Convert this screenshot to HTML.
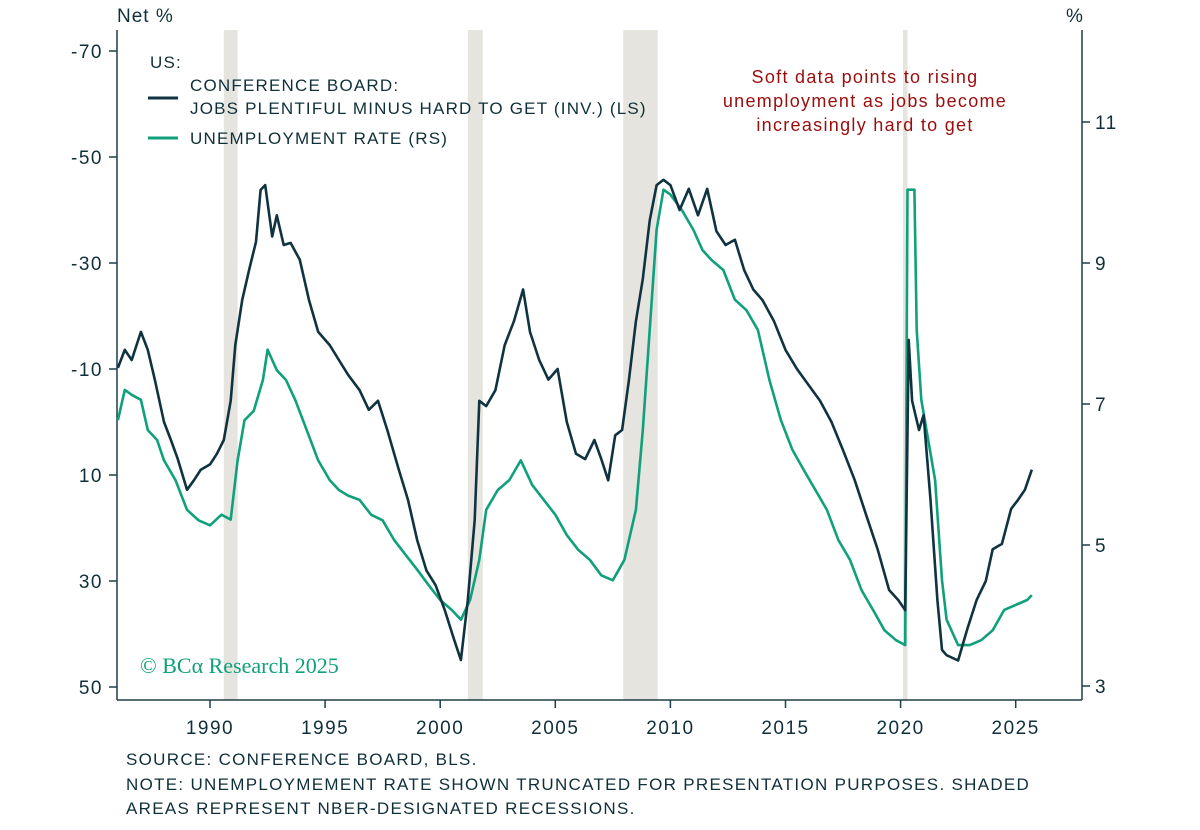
<!DOCTYPE html>
<html><head><meta charset="utf-8"><style>
html,body{margin:0;padding:0;background:#fff;}
svg{display:block;font-family:"Liberation Sans",sans-serif;}
</style></head><body>
<svg id="chart" width="1200" height="830" viewBox="0 0 1200 830">
<g id="rec"></g>
<g id="axes"></g>
<g id="lines"></g>
<text x="117" y="22" font-size="19" fill="#0f2f3a" letter-spacing="1">Net %</text>
<text x="1066" y="22" font-size="19" fill="#0f2f3a">%</text>
<g letter-spacing="1.2" font-size="17" fill="#0f2f3a">
<text x="150" y="68">US:</text>
<line x1="148" x2="178" y1="98" y2="98" stroke="#0f3340" stroke-width="3"/>
<text x="190" y="91">CONFERENCE BOARD:</text>
<text x="190" y="114">JOBS PLENTIFUL MINUS HARD TO GET (INV.) (LS)</text>
<line x1="148" x2="178" y1="138" y2="138" stroke="#10a07b" stroke-width="3"/>
<text x="190" y="144">UNEMPLOYMENT RATE (RS)</text>
</g>
<g font-size="18" fill="#9b0d0d" text-anchor="middle" letter-spacing="1.3">
<text x="865" y="83">Soft data points to rising</text>
<text x="865" y="107">unemployment as jobs become</text>
<text x="865" y="131">increasingly hard to get</text>
</g>
<text x="140" y="673" font-size="22" fill="#10a07b" font-family="Liberation Serif,serif">© BCα Research 2025</text>
<g font-size="17" fill="#0f2f3a" letter-spacing="1.3">
<text x="126" y="765">SOURCE: CONFERENCE BOARD, BLS.</text>
<text x="126" y="790">NOTE: UNEMPLOYMEMENT RATE SHOWN TRUNCATED FOR PRESENTATION PURPOSES. SHADED</text>
<text x="126" y="814">AREAS REPRESENT NBER-DESIGNATED RECESSIONS.</text>
</g>
</svg>
<script>
const recessions=[[1990.6,1991.2],[2001.2,2001.85],[2007.95,2009.45],[2020.1,2020.3]];
const xTicks=[1990,1995,2000,2005,2010,2015,2020,2025];
const leftTicks=[-70,-50,-30,-10,10,30,50];
const rightTicks=[11,9,7,5,3];
const jobsDates=[1986.0,1986.3,1986.6,1987.0,1987.3,1987.6,1988.0,1988.3,1988.6,1989.0,1989.3,1989.6,1990.0,1990.3,1990.6,1990.9,1991.1,1991.4,1991.7,1992.0,1992.2,1992.4,1992.7,1992.9,1993.2,1993.5,1993.9,1994.3,1994.7,1995.2,1995.6,1996.0,1996.5,1996.9,1997.3,1997.7,1998.2,1998.6,1999.0,1999.4,1999.8,2000.2,2000.6,2000.9,2001.2,2001.5,2001.7,2002.0,2002.4,2002.8,2003.2,2003.6,2003.9,2004.3,2004.7,2005.1,2005.5,2005.9,2006.3,2006.7,2007.0,2007.3,2007.6,2007.9,2008.2,2008.5,2008.8,2009.1,2009.4,2009.7,2010.0,2010.4,2010.8,2011.2,2011.6,2012.0,2012.4,2012.8,2013.2,2013.6,2014.0,2014.5,2015.0,2015.5,2016.0,2016.5,2017.0,2017.5,2018.0,2018.5,2019.0,2019.5,2019.9,2020.2,2020.35,2020.5,2020.8,2021.0,2021.3,2021.6,2021.8,2022.0,2022.5,2022.9,2023.3,2023.7,2024.0,2024.4,2024.8,2025.1,2025.4,2025.7];
const jobsValues=[-10.2,-13.6,-11.7,-17,-13.6,-8,0,3.4,7,12.8,11,9,8,6,3.4,-4,-14.5,-23,-28.7,-34,-43.8,-44.7,-35,-39,-33.4,-33.8,-30.6,-23,-17,-14.5,-11.7,-8.9,-6,-2.3,-4,1.5,9,14.7,22.3,28,30.8,35.5,41,44.9,33.6,18.5,-4,-3,-6,-14.5,-19,-25,-17,-11.7,-8,-10,0,6,7,3.4,7,11,2.5,1.5,-8,-19,-27,-38,-44.7,-45.7,-44.7,-40,-44,-39,-44,-36,-33.4,-34.4,-28.7,-25,-23,-19,-13.6,-10,-7,-4,0,5.3,10.9,17.5,24,31.7,33.6,35.5,-15.5,-4,1.5,-1.3,14.7,33.6,43,44,45,39,33.6,30,24,23,16.4,14.7,12.8,9];
const urDates=[1986.0,1986.3,1986.6,1987.0,1987.3,1987.7,1988.0,1988.5,1989.0,1989.5,1990.0,1990.5,1990.9,1991.2,1991.5,1991.9,1992.3,1992.5,1992.9,1993.3,1993.7,1994.2,1994.7,1995.2,1995.6,1996.0,1996.5,1997.0,1997.5,1998.0,1998.5,1999.0,1999.5,2000.0,2000.5,2000.9,2001.3,2001.7,2002.0,2002.5,2003.0,2003.5,2004.0,2004.5,2005.0,2005.5,2006.0,2006.5,2007.0,2007.5,2008.0,2008.5,2008.8,2009.1,2009.4,2009.7,2010.0,2010.5,2011.0,2011.4,2011.8,2012.3,2012.8,2013.3,2013.8,2014.3,2014.8,2015.3,2015.8,2016.3,2016.8,2017.3,2017.8,2018.3,2018.8,2019.3,2019.8,2020.2,2020.3,2020.6,2020.7,2020.9,2021.2,2021.5,2021.8,2022.0,2022.5,2023.0,2023.5,2024.0,2024.5,2025.0,2025.5,2025.7];
const urValues=[6.77,7.2,7.13,7.06,6.63,6.49,6.2,5.92,5.5,5.35,5.28,5.43,5.36,6.2,6.77,6.9,7.34,7.77,7.48,7.34,7.06,6.63,6.2,5.92,5.78,5.7,5.64,5.43,5.35,5.07,4.86,4.65,4.43,4.22,4.08,3.94,4.22,4.79,5.5,5.78,5.92,6.2,5.85,5.64,5.43,5.14,4.93,4.79,4.57,4.5,4.79,5.5,6.63,8.05,9.47,10.04,9.97,9.75,9.47,9.18,9.04,8.9,8.48,8.33,8.05,7.34,6.77,6.35,6.06,5.78,5.5,5.07,4.79,4.36,4.08,3.79,3.65,3.58,10.04,10.04,8.05,7.06,6.49,5.92,4.5,3.94,3.58,3.58,3.65,3.79,4.08,4.15,4.22,4.29];

const X0=117,X1=1082,YT=30,YB=700;
const xs=t=>210+(t-1990)*23.02;
const yl=v=>51+(v+70)/20*106;
const yr=v=>686-(v-3)/2*141;
const NS='http://www.w3.org/2000/svg';
function mk(p,tag,at){const e=document.createElementNS(NS,tag);for(const k in at)e.setAttribute(k,at[k]);p.appendChild(e);return e;}
const rec=document.getElementById('rec'),axes=document.getElementById('axes'),lines=document.getElementById('lines');
recessions.forEach(r=>{
 const e=mk(rec,'rect',{x:xs(r[0]),y:YT,width:xs(r[1])-xs(r[0]),height:YB-YT,fill:'#e6e4de'});
 
 
});
const ac='#1d3f48';
mk(axes,'line',{x1:X0,x2:X0,y1:YT,y2:YB,stroke:ac,'stroke-width':1.5});
mk(axes,'line',{x1:X1,x2:X1,y1:YT,y2:YB,stroke:ac,'stroke-width':1.5});
mk(axes,'line',{x1:X0,x2:X1,y1:YB,y2:YB,stroke:ac,'stroke-width':1.5});
leftTicks.forEach(v=>{
 mk(axes,'line',{x1:X0-8,x2:X0,y1:yl(v),y2:yl(v),stroke:ac,'stroke-width':1.5});
 const t=mk(axes,'text',{x:103,y:yl(v)+7,'font-size':19,fill:'#0f2f3a','text-anchor':'end','letter-spacing':1.5});t.textContent=v;
 
 
});
rightTicks.forEach(v=>{
 mk(axes,'line',{x1:X1,x2:X1+8,y1:yr(v),y2:yr(v),stroke:ac,'stroke-width':1.5});
 const t=mk(axes,'text',{x:1095,y:yr(v)+7,'font-size':19,fill:'#0f2f3a','letter-spacing':1.5});t.textContent=v;
 
 
});
xTicks.forEach(v=>{
 mk(axes,'line',{x1:xs(v),x2:xs(v),y1:YB,y2:YB+8,stroke:ac,'stroke-width':1.5});
 const t=mk(axes,'text',{x:xs(v),y:YB+34,'font-size':19,fill:'#0f2f3a','text-anchor':'middle','letter-spacing':1.5});t.textContent=v;
 
 
});
const ur=mk(lines,'path',{d:urDates.map((d,i)=>(i?'L':'M')+xs(d).toFixed(1)+','+yr(urValues[i]).toFixed(1)).join(''),fill:'none',stroke:'#10a07b','stroke-width':2.6,'stroke-linejoin':'round'});


const jb=mk(lines,'path',{d:jobsDates.map((d,i)=>(i?'L':'M')+xs(d).toFixed(1)+','+yl(jobsValues[i]).toFixed(1)).join(''),fill:'none',stroke:'#0f3340','stroke-width':2.6,'stroke-linejoin':'round'});


</script>
</body></html>
